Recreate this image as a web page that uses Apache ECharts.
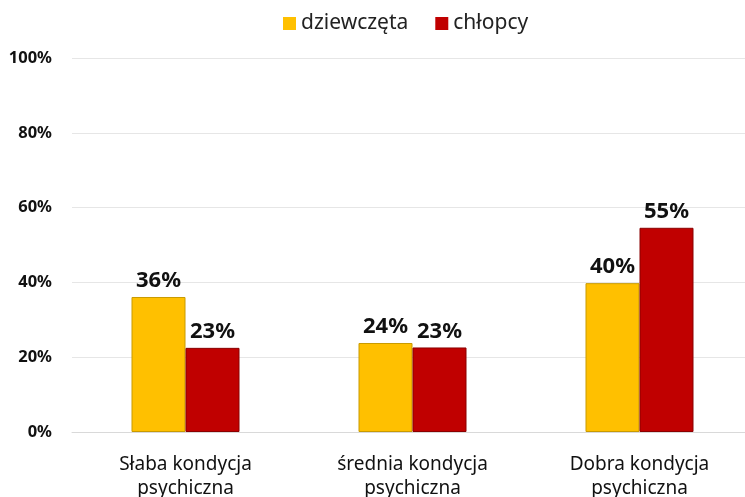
<!DOCTYPE html>
<html>
<head>
<meta charset="utf-8">
<script src="https://cdn.jsdelivr.net/npm/echarts@6/dist/echarts.min.js"></script>
<style>
  html, body { margin: 0; padding: 0; background: #fff; }
  #chart { width: 745px; height: 497px; }
</style>
</head>
<body>
<div id="chart"></div>
<script>
// dane
const categories = ['Słaba kondycja\npsychiczna', 'średnia kondycja\npsychiczna', 'Dobra kondycja\npsychiczna'];
const girls = [36.1, 23.8, 39.8];
const boys = [22.5, 22.6, 54.6];
const seriesNames = ['dziewczęta', 'chłopcy'];

const font = '"Noto Sans", "Open Sans", sans-serif';

const labelStyle = {
  show: true,
  position: 'top',
  distance: 5,
  fontFamily: font,
  fontSize: 22,
  fontWeight: 'bold',
  color: '#111',
  formatter: (p) => Math.round(p.value) + '%'
};

const chart = echarts.init(document.getElementById('chart'));
chart.setOption({
  backgroundColor: '#fff',
  animation: false,
  legend: {
    top: 8,
    left: 278,
    icon: 'rect',
    itemWidth: 13,
    itemHeight: 13,
    itemGap: 27,
    itemStyle: { borderWidth: 0 },
    textStyle: { fontFamily: font, fontSize: 21, color: '#222' },
    data: seriesNames
  },
  grid: {
    top: 58,
    bottom: 65,
    left: 72,
    right: -8,
    outerBoundsMode: 'none',
    containLabel: false
  },
  xAxis: {
    type: 'category',
    data: categories,
    axisTick: { show: false },
    axisLine: { lineStyle: { color: '#d9d9d9', width: 1 } },
    axisLabel: {
      margin: 21,
      fontFamily: font,
      fontSize: 19,
      lineHeight: 24,
      color: '#111'
    }
  },
  yAxis: {
    type: 'value',
    min: 0,
    max: 100,
    interval: 20,
    axisLine: { show: false },
    axisTick: { show: false },
    splitLine: { lineStyle: { color: '#e6e6e6', width: 1 } },
    axisLabel: {
      margin: 20,
      fontFamily: font,
      fontSize: 16.5,
      fontWeight: 'bold',
      color: '#111',
      formatter: '{value}%'
    }
  },
  series: [
    {
      name: seriesNames[0],
      type: 'bar',
      data: girls,
      barWidth: 54,
      barGap: '0%',
      itemStyle: { color: '#FFC000', borderColor: '#c99a00', borderWidth: 1 },
      label: labelStyle
    },
    {
      name: seriesNames[1],
      type: 'bar',
      data: boys,
      barWidth: 54,
      barGap: '0%',
      itemStyle: { color: '#C00000', borderColor: '#8a0000', borderWidth: 1 },
      label: labelStyle
    }
  ]
});
</script>
</body>
</html>
